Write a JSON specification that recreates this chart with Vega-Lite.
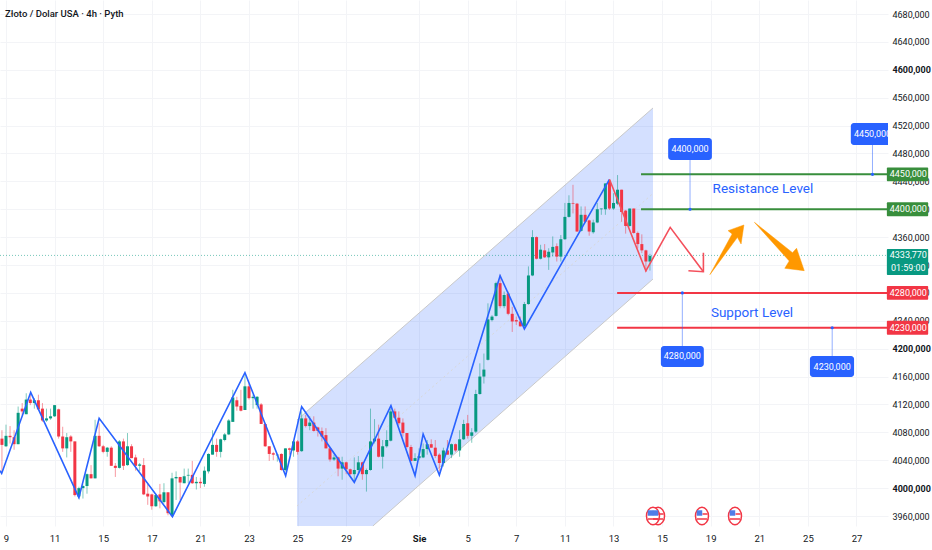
{
  "$schema": "https://vega.github.io/schema/vega-lite/v6.json",
  "width": 888,
  "height": 526,
  "autosize": "none",
  "padding": {"left": 0, "top": 0, "right": 44, "bottom": 24},
  "background": "white",
  "config": {
    "view": {"stroke": null},
    "font": "Roboto"
  },
  "datasets": {
    "candles": [
      {"bar":-1,"open":4071,"high":4083,"low":4024,"close":4062},
      {"bar":0,"open":4060,"high":4091,"low":4059,"close":4075},
      {"bar":1,"open":4075,"high":4089,"low":4064,"close":4073},
      {"bar":2,"open":4073,"high":4083,"low":4055,"close":4063},
      {"bar":3,"open":4063,"high":4117,"low":4063,"close":4108},
      {"bar":4,"open":4114,"high":4122,"low":4105,"close":4110},
      {"bar":5,"open":4106,"high":4136,"low":4106,"close":4127},
      {"bar":6,"open":4127,"high":4134,"low":4119,"close":4122},
      {"bar":7,"open":4122,"high":4129,"low":4114,"close":4126},
      {"bar":8,"open":4126,"high":4134,"low":4112,"close":4113},
      {"bar":9,"open":4114,"high":4122,"low":4095,"close":4097},
      {"bar":10,"open":4097,"high":4114,"low":4095,"close":4100},
      {"bar":11,"open":4100,"high":4114,"low":4098,"close":4103},
      {"bar":12,"open":4103,"high":4119,"low":4102,"close":4119},
      {"bar":13,"open":4113,"high":4114,"low":4071,"close":4074},
      {"bar":14,"open":4074,"high":4088,"low":4052,"close":4057},
      {"bar":15,"open":4057,"high":4079,"low":4044,"close":4073},
      {"bar":16,"open":4074,"high":4076,"low":4052,"close":4067},
      {"bar":17,"open":4067,"high":4067,"low":3988,"close":3990},
      {"bar":18,"open":3988,"high":4002,"low":3985,"close":4000},
      {"bar":19,"open":4000,"high":4005,"low":3985,"close":4003},
      {"bar":20,"open":4003,"high":4021,"low":3992,"close":4020},
      {"bar":21,"open":4020,"high":4033,"low":4014,"close":4014},
      {"bar":22,"open":4014,"high":4098,"low":4014,"close":4075},
      {"bar":23,"open":4075,"high":4093,"low":4059,"close":4060},
      {"bar":24,"open":4060,"high":4062,"low":4050,"close":4052},
      {"bar":25,"open":4052,"high":4059,"low":4045,"close":4058},
      {"bar":26,"open":4058,"high":4060,"low":4032,"close":4032},
      {"bar":27,"open":4032,"high":4036,"low":4016,"close":4029},
      {"bar":28,"open":4029,"high":4069,"low":4028,"close":4067},
      {"bar":29,"open":4067,"high":4071,"low":4026,"close":4032},
      {"bar":30,"open":4033,"high":4079,"low":4032,"close":4060},
      {"bar":31,"open":4060,"high":4063,"low":4043,"close":4043},
      {"bar":32,"open":4044,"high":4048,"low":4025,"close":4032},
      {"bar":33,"open":4032,"high":4036,"low":4024,"close":4034},
      {"bar":34,"open":4033,"high":4043,"low":3990,"close":3991},
      {"bar":35,"open":3992,"high":4007,"low":3976,"close":3988},
      {"bar":36,"open":3991,"high":3992,"low":3969,"close":3974},
      {"bar":37,"open":3974,"high":3992,"low":3973,"close":3990},
      {"bar":38,"open":3991,"high":4006,"low":3971,"close":3981},
      {"bar":39,"open":3980,"high":4007,"low":3978,"close":3994},
      {"bar":40,"open":3994,"high":3994,"low":3961,"close":3964},
      {"bar":41,"open":3961,"high":4022,"low":3959,"close":4014},
      {"bar":42,"open":4014,"high":4024,"low":3983,"close":4016},
      {"bar":43,"open":4016,"high":4016,"low":3983,"close":4008},
      {"bar":44,"open":4007,"high":4028,"low":4007,"close":4017},
      {"bar":45,"open":4018,"high":4028,"low":4007,"close":4019},
      {"bar":46,"open":4019,"high":4039,"low":4006,"close":4007},
      {"bar":47,"open":4007,"high":4016,"low":3998,"close":4009},
      {"bar":48,"open":4009,"high":4015,"low":4000,"close":4007},
      {"bar":49,"open":4006,"high":4031,"low":4002,"close":4025},
      {"bar":50,"open":4024,"high":4050,"low":4021,"close":4049},
      {"bar":51,"open":4048,"high":4083,"low":4048,"close":4062},
      {"bar":52,"open":4062,"high":4071,"low":4045,"close":4052},
      {"bar":53,"open":4052,"high":4071,"low":4044,"close":4070},
      {"bar":54,"open":4069,"high":4079,"low":4067,"close":4077},
      {"bar":55,"open":4077,"high":4099,"low":4076,"close":4097},
      {"bar":56,"open":4095,"high":4141,"low":4095,"close":4130},
      {"bar":57,"open":4126,"high":4131,"low":4111,"close":4117},
      {"bar":58,"open":4118,"high":4141,"low":4110,"close":4111},
      {"bar":59,"open":4112,"high":4162,"low":4112,"close":4146},
      {"bar":60,"open":4146,"high":4150,"low":4127,"close":4129},
      {"bar":61,"open":4129,"high":4134,"low":4114,"close":4131},
      {"bar":62,"open":4119,"high":4132,"low":4114,"close":4131},
      {"bar":63,"open":4120,"high":4122,"low":4092,"close":4092},
      {"bar":64,"open":4092,"high":4093,"low":4059,"close":4060},
      {"bar":65,"open":4060,"high":4060,"low":4039,"close":4049},
      {"bar":66,"open":4050,"high":4052,"low":4040,"close":4048},
      {"bar":67,"open":4047,"high":4048,"low":4038,"close":4048},
      {"bar":68,"open":4049,"high":4050,"low":4025,"close":4026},
      {"bar":69,"open":4026,"high":4057,"low":4024,"close":4057},
      {"bar":70,"open":4057,"high":4058,"low":4048,"close":4055},
      {"bar":71,"open":4054,"high":4067,"low":4045,"close":4067},
      {"bar":72,"open":4067,"high":4069,"low":4048,"close":4052},
      {"bar":73,"open":4053,"high":4110,"low":4052,"close":4100},
      {"bar":74,"open":4100,"high":4105,"low":4087,"close":4089},
      {"bar":75,"open":4089,"high":4103,"low":4083,"close":4094},
      {"bar":76,"open":4094,"high":4103,"low":4081,"close":4082},
      {"bar":77,"open":4087,"high":4088,"low":4074,"close":4082},
      {"bar":78,"open":4082,"high":4087,"low":4067,"close":4074},
      {"bar":79,"open":4076,"high":4086,"low":4057,"close":4057},
      {"bar":80,"open":4057,"high":4059,"low":4038,"close":4041},
      {"bar":81,"open":4041,"high":4048,"low":4039,"close":4044},
      {"bar":82,"open":4044,"high":4045,"low":4017,"close":4028},
      {"bar":83,"open":4028,"high":4045,"low":4012,"close":4037},
      {"bar":84,"open":4037,"high":4038,"low":4020,"close":4027},
      {"bar":85,"open":4027,"high":4028,"low":4019,"close":4020},
      {"bar":86,"open":4020,"high":4044,"low":4009,"close":4026},
      {"bar":87,"open":4026,"high":4046,"low":4021,"close":4037},
      {"bar":88,"open":4037,"high":4038,"low":4012,"close":4020},
      {"bar":89,"open":4020,"high":4028,"low":3995,"close":4026},
      {"bar":90,"open":4026,"high":4114,"low":4025,"close":4067},
      {"bar":91,"open":4067,"high":4099,"low":4064,"close":4071},
      {"bar":92,"open":4071,"high":4091,"low":4044,"close":4045},
      {"bar":93,"open":4045,"high":4069,"low":4028,"close":4060},
      {"bar":94,"open":4060,"high":4083,"low":4058,"close":4069},
      {"bar":95,"open":4068,"high":4114,"low":4067,"close":4110},
      {"bar":96,"open":4110,"high":4114,"low":4100,"close":4101},
      {"bar":97,"open":4101,"high":4110,"low":4090,"close":4093},
      {"bar":98,"open":4094,"high":4100,"low":4074,"close":4079},
      {"bar":99,"open":4079,"high":4079,"low":4057,"close":4059},
      {"bar":100,"open":4059,"high":4062,"low":4038,"close":4039},
      {"bar":101,"open":4039,"high":4050,"low":4039,"close":4043},
      {"bar":102,"open":4043,"high":4057,"low":4040,"close":4046},
      {"bar":103,"open":4044,"high":4064,"low":4043,"close":4056},
      {"bar":104,"open":4056,"high":4069,"low":4048,"close":4063},
      {"bar":105,"open":4063,"high":4070,"low":4058,"close":4058},
      {"bar":106,"open":4058,"high":4069,"low":4043,"close":4046},
      {"bar":107,"open":4048,"high":4050,"low":4024,"close":4036},
      {"bar":108,"open":4036,"high":4058,"low":4031,"close":4054},
      {"bar":109,"open":4054,"high":4069,"low":4048,"close":4048},
      {"bar":110,"open":4048,"high":4064,"low":4043,"close":4063},
      {"bar":111,"open":4063,"high":4064,"low":4052,"close":4054},
      {"bar":112,"open":4054,"high":4083,"low":4045,"close":4070},
      {"bar":113,"open":4070,"high":4098,"low":4069,"close":4092},
      {"bar":114,"open":4093,"high":4105,"low":4071,"close":4075},
      {"bar":115,"open":4075,"high":4086,"low":4065,"close":4080},
      {"bar":116,"open":4081,"high":4141,"low":4079,"close":4135},
      {"bar":117,"open":4135,"high":4179,"low":4134,"close":4160},
      {"bar":118,"open":4160,"high":4193,"low":4150,"close":4170},
      {"bar":119,"open":4184,"high":4265,"low":4183,"close":4242},
      {"bar":120,"open":4241,"high":4248,"low":4239,"close":4246},
      {"bar":121,"open":4247,"high":4296,"low":4246,"close":4294},
      {"bar":122,"open":4294,"high":4306,"low":4258,"close":4261},
      {"bar":123,"open":4261,"high":4282,"low":4258,"close":4277},
      {"bar":124,"open":4279,"high":4282,"low":4248,"close":4250},
      {"bar":125,"open":4250,"high":4260,"low":4224,"close":4239},
      {"bar":126,"open":4241,"high":4246,"low":4234,"close":4239},
      {"bar":127,"open":4239,"high":4246,"low":4232,"close":4232},
      {"bar":128,"open":4232,"high":4267,"low":4229,"close":4264},
      {"bar":129,"open":4264,"high":4318,"low":4263,"close":4305},
      {"bar":130,"open":4305,"high":4370,"low":4304,"close":4360},
      {"bar":131,"open":4360,"high":4361,"low":4328,"close":4329},
      {"bar":132,"open":4329,"high":4349,"low":4328,"close":4342},
      {"bar":133,"open":4341,"high":4350,"low":4330,"close":4331},
      {"bar":134,"open":4331,"high":4344,"low":4313,"close":4339},
      {"bar":135,"open":4338,"high":4361,"low":4332,"close":4346},
      {"bar":136,"open":4347,"high":4351,"low":4325,"close":4332},
      {"bar":137,"open":4332,"high":4363,"low":4325,"close":4357},
      {"bar":138,"open":4357,"high":4409,"low":4356,"close":4389},
      {"bar":139,"open":4389,"high":4420,"low":4388,"close":4409},
      {"bar":140,"open":4409,"high":4435,"low":4394,"close":4408},
      {"bar":141,"open":4408,"high":4409,"low":4368,"close":4368},
      {"bar":142,"open":4369,"high":4404,"low":4368,"close":4392},
      {"bar":143,"open":4392,"high":4404,"low":4380,"close":4382},
      {"bar":144,"open":4384,"high":4385,"low":4362,"close":4368},
      {"bar":145,"open":4367,"high":4385,"low":4365,"close":4381},
      {"bar":146,"open":4381,"high":4409,"low":4380,"close":4400},
      {"bar":147,"open":4400,"high":4401,"low":4392,"close":4401},
      {"bar":148,"open":4400,"high":4437,"low":4392,"close":4437},
      {"bar":149,"open":4441,"high":4442,"low":4399,"close":4401},
      {"bar":150,"open":4401,"high":4423,"low":4399,"close":4409},
      {"bar":151,"open":4408,"high":4449,"low":4406,"close":4428},
      {"bar":152,"open":4428,"high":4428,"low":4382,"close":4396},
      {"bar":153,"open":4398,"high":4399,"low":4365,"close":4376},
      {"bar":154,"open":4376,"high":4401,"low":4375,"close":4401},
      {"bar":155,"open":4401,"high":4401,"low":4365,"close":4366},
      {"bar":156,"open":4366,"high":4368,"low":4344,"close":4350},
      {"bar":157,"open":4350,"high":4364,"low":4337,"close":4341},
      {"bar":158,"open":4341,"high":4342,"low":4310,"close":4325},
      {"bar":159,"open":4325,"high":4336,"low":4312,"close":4333}
    ],
    "channel": [
      {"seq":1,"bar":71.85,"price":4097.7},
      {"seq":2,"bar":159.75,"price":4545.2},
      {"seq":3,"bar":159.75,"price":4299.9},
      {"seq":4,"bar":90.6,"price":3945.7},
      {"seq":5,"bar":71.85,"price":3945.7}
    ],
    "channelEdges": [
      {"edge":"top","seq":1,"bar":71.85,"price":4097.7},
      {"edge":"top","seq":2,"bar":159.75,"price":4545.2},
      {"edge":"bottom","seq":1,"bar":90.6,"price":3945.7},
      {"edge":"bottom","seq":2,"bar":159.75,"price":4299.9}
    ],
    "channelMid": [
      {"seq":1,"bar":71.85,"price":3974.3},
      {"seq":2,"bar":159.75,"price":4422.6}
    ],
    "paths": [
      {"leg":"zigzag","seq":1,"bar":-1.48,"price":4025},
      {"leg":"zigzag","seq":2,"bar":-1.07,"price":4021},
      {"leg":"zigzag","seq":3,"bar":6.1,"price":4137.4},
      {"leg":"zigzag","seq":4,"bar":18,"price":3986.3},
      {"leg":"zigzag","seq":5,"bar":23,"price":4100.1},
      {"leg":"zigzag","seq":6,"bar":41.1,"price":3959},
      {"leg":"zigzag","seq":7,"bar":59,"price":4165.6},
      {"leg":"zigzag","seq":8,"bar":69.05,"price":4017.8},
      {"leg":"zigzag","seq":9,"bar":73,"price":4116.8},
      {"leg":"zigzag","seq":10,"bar":86,"price":4008.3},
      {"leg":"zigzag","seq":11,"bar":95.05,"price":4118.2},
      {"leg":"zigzag","seq":12,"bar":101,"price":4017.9},
      {"leg":"zigzag","seq":13,"bar":103,"price":4077.6},
      {"leg":"zigzag","seq":14,"bar":107,"price":4018.8},
      {"leg":"zigzag","seq":15,"bar":122,"price":4304.7},
      {"leg":"zigzag","seq":16,"bar":128,"price":4228.3},
      {"leg":"zigzag","seq":17,"bar":149,"price":4442.9},
      {"leg":"forecast","seq":1,"bar":149,"price":4442.9},
      {"leg":"forecast","seq":2,"bar":158,"price":4311.4},
      {"leg":"forecast","seq":3,"bar":164,"price":4374},
      {"leg":"forecast","seq":4,"bar":172.2,"price":4310.4},
      {"leg":"head","seq":1,"bar":172.2,"price":4337.7},
      {"leg":"head","seq":2,"bar":172.2,"price":4310.4},
      {"leg":"head","seq":3,"bar":168.5,"price":4311.8}
    ],
    "arrows": [
      {"arrow":"up","seq":1,"bar":173.8,"price":4306.2},
      {"arrow":"up","seq":2,"bar":179.3,"price":4364.5},
      {"arrow":"up","seq":3,"bar":178.3,"price":4369.3},
      {"arrow":"up","seq":4,"bar":182.2,"price":4377.4},
      {"arrow":"up","seq":5,"bar":181.5,"price":4350.2},
      {"arrow":"up","seq":6,"bar":180.6,"price":4359.7},
      {"arrow":"down","seq":1,"bar":184.8,"price":4381.2},
      {"arrow":"down","seq":2,"bar":194.2,"price":4337.7},
      {"arrow":"down","seq":3,"bar":195.2,"price":4344},
      {"arrow":"down","seq":4,"bar":197.1,"price":4311.9},
      {"arrow":"down","seq":5,"bar":192.3,"price":4315.3},
      {"arrow":"down","seq":6,"bar":193.4,"price":4325.8}
    ],
    "levels": [
      {"side":"resistance","price":4450,"bar":156.8,"bar2":217.8},
      {"side":"resistance","price":4400,"bar":156.8,"bar2":217.8},
      {"side":"support","price":4280,"bar":150.9,"bar2":217.8},
      {"side":"support","price":4230,"bar":150.9,"bar2":217.8}
    ],
    "lastPrice": [
      {"price":4333.77,"bar":-1.48,"bar2":217.8}
    ],
    "connectors": [
      {"bar":168.9,"price":4400,"price2":4470.6},
      {"bar":213.95,"price":4450,"price2":4492.1},
      {"bar":167,"price":4280,"price2":4203.8},
      {"bar":204,"price":4230,"price2":4189.5}
    ],
    "boxes": [
      {"bar":163.5,"bar2":174.3,"price":4502.2,"price2":4470.6},
      {"bar":208.6,"bar2":219.3,"price":4523.7,"price2":4492.1},
      {"bar":161.7,"bar2":172.3,"price":4203.8,"price2":4173.7},
      {"bar":198.5,"bar2":209.4,"price":4189.5,"price2":4159.4}
    ],
    "boxLabels": [
      {"bar":168.9,"price":4486.4,"label":"4400,000"},
      {"bar":213.95,"price":4507.9,"label":"4450,000"},
      {"bar":167,"price":4188.8,"label":"4280,000"},
      {"bar":204,"price":4174.4,"label":"4230,000"}
    ],
    "tags": [
      {"side":"resistance","bar":217.5,"bar2":227.7,"price":4460,"price2":4440},
      {"side":"resistance","bar":217.5,"bar2":227.7,"price":4410,"price2":4390},
      {"side":"last","bar":217.5,"bar2":227.7,"price":4343,"price2":4305.7},
      {"side":"support","bar":217.5,"bar2":227.7,"price":4290,"price2":4270},
      {"side":"support","bar":217.5,"bar2":227.7,"price":4240,"price2":4220}
    ],
    "tagLabels": [
      {"bar":222.8,"price":4450,"label":"4450,000"},
      {"bar":222.8,"price":4400,"label":"4400,000"},
      {"bar":222.8,"price":4334.3,"label":"4333,770"},
      {"bar":222.8,"price":4315.7,"label":"01:59:00"},
      {"bar":222.8,"price":4280,"label":"4280,000"},
      {"bar":222.8,"price":4230,"label":"4230,000"}
    ],
    "notes": [
      {"bar":186.9,"price":4429,"label":"Resistance Level"},
      {"bar":184.2,"price":4251.2,"label":"Support Level"}
    ],
    "events": [
      {"bar":161,"price":3960},
      {"bar":159.75,"price":3960},
      {"bar":171.85,"price":3960},
      {"bar":180,"price":3960}
    ],
    "heading": [
      {"bar":-0.25,"price":4680,"label":"Złoto / Dolar USA · 4h · Pyth"}
    ]
  },
  "encoding": {
    "x": {
      "field": "bar",
      "type": "quantitative",
      "scale": {"domain": [-1.481, 217.78], "nice": false, "zero": false},
      "axis": {
        "title": null,
        "values": [0, 12, 24, 36, 48, 60, 72, 84, 102, 114, 126, 138, 150, 162, 174, 186, 198, 210],
        "labelExpr": "{'0':'9','12':'11','24':'15','36':'17','48':'21','60':'23','72':'25','84':'29','102':'Sie','114':'5','126':'7','138':'11','150':'13','162':'15','174':'19','186':'21','198':'25','210':'27'}[datum.value]",
        "domain": false,
        "ticks": false,
        "grid": true,
        "gridColor": "#f3f4f7",
        "gridWidth": 1,
        "labelFont": "Roboto",
        "labelFontSize": 9.5,
        "labelColor": "#131722",
        "labelPadding": 7,
        "labelFontWeight": {"condition": {"test": "datum.value==102", "value": "bold"}, "value": "normal"}
      }
    },
    "y": {
      "field": "price",
      "type": "quantitative",
      "scale": {"domain": [3945.66, 4700.1], "nice": false, "zero": false},
      "axis": {
        "title": null,
        "orient": "right",
        "values": [3960, 4000, 4040, 4080, 4120, 4160, 4200, 4240, 4280, 4320, 4360, 4400, 4440, 4480, 4520, 4560, 4600, 4640, 4680],
        "labelExpr": "replace(format(datum.value,'.3f'),'.',',')",
        "domain": false,
        "ticks": false,
        "grid": true,
        "gridColor": "#f3f4f7",
        "gridWidth": 1,
        "labelFont": "Roboto",
        "labelFontSize": 9,
        "labelColor": "#131722",
        "labelPadding": 4,
        "labelFontWeight": {"condition": {"test": "datum.value==4000 || datum.value==4200 || datum.value==4600", "value": "bold"}, "value": "normal"}
      }
    }
  },
  "layer": [
    {
      "data": {"name": "channel"},
      "mark": {"type": "line", "interpolate": "linear-closed", "fill": "#2962ff", "fillOpacity": 0.2, "stroke": null},
      "encoding": {"order": {"field": "seq", "type": "quantitative"}}
    },
    {
      "data": {"name": "channelEdges"},
      "mark": {"type": "line", "stroke": "#c9c9c9", "strokeWidth": 1},
      "encoding": {"detail": {"field": "edge"}, "order": {"field": "seq", "type": "quantitative"}}
    },
    {
      "data": {"name": "channelMid"},
      "mark": {"type": "line", "stroke": "#d8d8d8", "strokeWidth": 1, "strokeDash": [2, 3]},
      "encoding": {"order": {"field": "seq", "type": "quantitative"}}
    },
    {
      "data": {"name": "lastPrice"},
      "mark": {"type": "rule", "stroke": "#089981", "strokeWidth": 1, "strokeDash": [1, 2], "opacity": 0.55},
      "encoding": {"x2": {"field": "bar2"}}
    },
    {
      "data": {"name": "candles"},
      "mark": {"type": "rule", "strokeWidth": 1, "opacity": 0.5},
      "encoding": {
        "y": {"field": "high", "type": "quantitative"},
        "y2": {"field": "low"},
        "color": {"condition": {"test": "datum.close>=datum.open", "value": "#089981"}, "value": "#f23645"}
      }
    },
    {
      "data": {"name": "candles"},
      "mark": {"type": "rule", "strokeWidth": 3},
      "encoding": {
        "y": {"field": "open", "type": "quantitative"},
        "y2": {"field": "close"},
        "color": {"condition": {"test": "datum.close>=datum.open", "value": "#089981"}, "value": "#f23645"}
      }
    },
    {
      "data": {"name": "paths"},
      "mark": {"type": "line", "strokeWidth": 1.6, "clip": true},
      "encoding": {
        "color": {
          "field": "leg",
          "type": "nominal",
          "legend": null,
          "scale": {"domain": ["zigzag", "forecast", "head", "resistance", "support", "last"], "range": ["#2962ff", "#f4505c", "#f4505c", "#388e3c", "#f23645", "#089981"]}
        },
        "order": {"field": "seq", "type": "quantitative"}
      }
    },
    {
      "data": {"name": "arrows"},
      "mark": {"type": "line", "interpolate": "linear-closed", "fill": "#ff9800", "stroke": "#ff9800", "strokeWidth": 0.5},
      "encoding": {"detail": {"field": "arrow"}, "order": {"field": "seq", "type": "quantitative"}}
    },
    {
      "data": {"name": "levels"},
      "mark": {"type": "rule", "strokeWidth": 2},
      "encoding": {
        "x2": {"field": "bar2"},
        "color": {
          "field": "side",
          "type": "nominal",
          "legend": null,
          "scale": {"domain": ["zigzag", "forecast", "head", "resistance", "support", "last"], "range": ["#2962ff", "#f4505c", "#f4505c", "#388e3c", "#f23645", "#089981"]}
        }
      }
    },
    {
      "data": {"name": "connectors"},
      "mark": {"type": "rule", "stroke": "#2962ff", "strokeWidth": 1, "opacity": 0.5},
      "encoding": {"y2": {"field": "price2"}}
    },
    {
      "data": {"name": "connectors"},
      "mark": {"type": "circle", "size": 10, "color": "#2962ff", "opacity": 1}
    },
    {
      "data": {"name": "boxes"},
      "mark": {"type": "rect", "fill": "#2962ff", "cornerRadius": 3, "clip": true},
      "encoding": {"x2": {"field": "bar2"}, "y2": {"field": "price2"}}
    },
    {
      "data": {"name": "boxLabels"},
      "mark": {"type": "text", "color": "white", "fontSize": 9, "align": "center", "baseline": "middle", "clip": true},
      "encoding": {"text": {"field": "label"}}
    },
    {
      "data": {"name": "tags"},
      "mark": {"type": "rect", "cornerRadius": 1},
      "encoding": {
        "x2": {"field": "bar2"},
        "y2": {"field": "price2"},
        "color": {
          "field": "side",
          "type": "nominal",
          "legend": null,
          "scale": {"domain": ["zigzag", "forecast", "head", "resistance", "support", "last"], "range": ["#2962ff", "#f4505c", "#f4505c", "#388e3c", "#f23645", "#089981"]}
        }
      }
    },
    {
      "data": {"name": "tagLabels"},
      "mark": {"type": "text", "color": "white", "fontSize": 9, "align": "center", "baseline": "middle"},
      "encoding": {"text": {"field": "label"}}
    },
    {
      "data": {"name": "notes"},
      "mark": {"type": "text", "color": "#2962ff", "fontSize": 13.5, "align": "center", "baseline": "middle"},
      "encoding": {"text": {"field": "label"}}
    },
    {
      "data": {"name": "events"},
      "mark": {"type": "point", "shape": "M-0.75,0 A0.75,1 0 1 1 0.75,0 A0.75,1 0 1 1 -0.75,0 Z", "size": 300, "filled": false, "fill": "white", "fillOpacity": 1, "stroke": "#f23645", "strokeWidth": 1.5, "opacity": 1}
    },
    {
      "data": {"name": "events"},
      "mark": {"type": "tick", "orient": "horizontal", "size": 5, "thickness": 1.5, "color": "#f23645", "xOffset": 3, "yOffset": -2, "opacity": 1}
    },
    {
      "data": {"name": "events"},
      "mark": {"type": "tick", "orient": "horizontal", "size": 10, "thickness": 1.5, "color": "#f23645", "yOffset": 3, "opacity": 1}
    },
    {
      "data": {"name": "events"},
      "mark": {"type": "square", "size": 30, "color": "#4f7de8", "xOffset": -2.5, "yOffset": -3, "opacity": 1}
    },
    {
      "data": {"name": "heading"},
      "mark": {"type": "text", "color": "#131722", "fontSize": 9.5, "fontWeight": 500, "align": "left", "baseline": "middle"},
      "encoding": {"text": {"field": "label"}}
    }
  ]
}
